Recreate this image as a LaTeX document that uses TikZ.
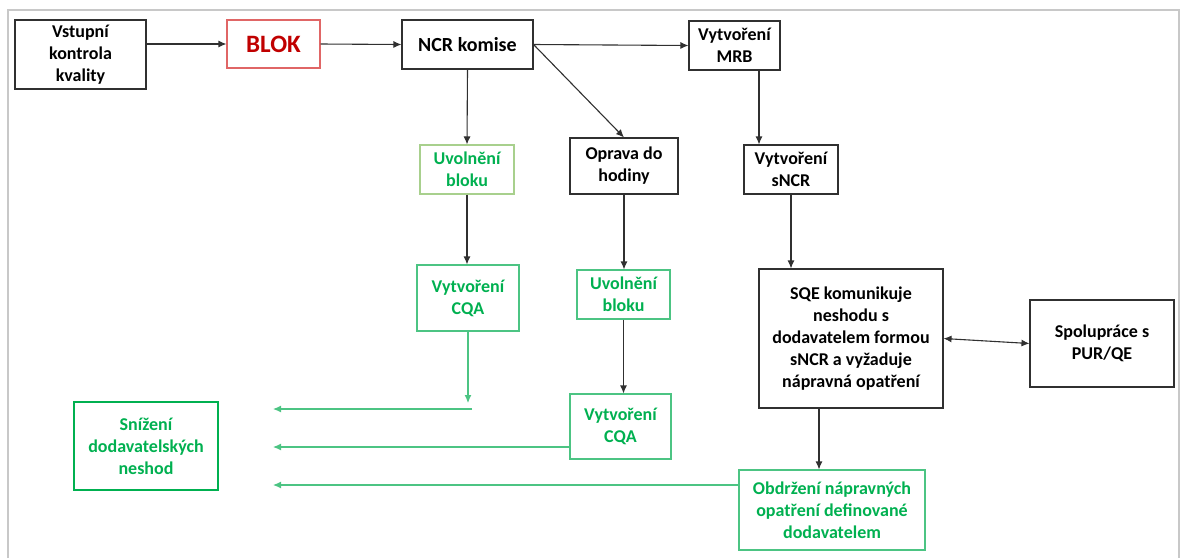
\documentclass[tikz,border=0pt]{standalone}
\usepackage{fontspec}
\setmainfont{Carlito}
\usetikzlibrary{arrows.meta}
\definecolor{framegray}{HTML}{C8C8C8}
\definecolor{linegray}{HTML}{303030}
\definecolor{okgreen}{HTML}{00B050}
\definecolor{softgreen}{HTML}{4CC483}
\definecolor{olivegreen}{HTML}{A8D08D}
\definecolor{blokred}{HTML}{C00000}
\definecolor{blokedge}{HTML}{E06666}
\begin{document}
\begin{tikzpicture}[x=1pt,y=-1pt,
  box/.style={draw=linegray,line width=1.1pt,align=center,inner sep=0pt,
    font=\fontsize{18}{22}\selectfont\bfseries,text=black},
  gbox/.style={box,draw=softgreen,text=okgreen},
  tip/.tip={Latex[length=8pt,width=7pt]},
  flow/.style={draw=linegray,line width=1.1pt,-tip},
  gflow/.style={draw=softgreen,line width=1.1pt,-tip}]
  \useasboundingbox (0,0) rectangle (1183,558);
  % outer frame, open at the bottom
  \draw[framegray,line width=1.5pt] (8,558) -- (8,10) -- (1179,10) -- (1179,558);

  % boxes
  \node[box,minimum width=131pt,minimum height=69pt] (vk) at (80.5,54.5) {Vstupní\\kontrola\\kvality};
  \node[box,draw=blokedge,text=blokred,minimum width=93pt,minimum height=48pt,
        font=\fontsize{25}{28}\selectfont\bfseries] (blok) at (273.5,44) {BLOK};
  \node[box,minimum width=131pt,minimum height=49pt,
        font=\fontsize{20}{24}\selectfont\bfseries] (ncr) at (467.5,44.5) {NCR komise};
  \node[box,minimum width=91pt,minimum height=49pt] (mrb) at (734.5,45.5) {Vytvoření\\MRB};
  \node[gbox,draw=olivegreen,minimum width=94pt,minimum height=49pt] (uv1) at (467,169.5) {Uvolnění\\bloku};
  \node[box,minimum width=108pt,minimum height=56pt] (opr) at (624,166) {Oprava do\\hodiny};
  \node[box,minimum width=94pt,minimum height=49pt] (sncr) at (791,169.5) {Vytvoření\\sNCR};
  \node[gbox,minimum width=102pt,minimum height=66pt] (cqa1) at (468,298) {Vytvoření\\CQA};
  \node[gbox,minimum width=93pt,minimum height=49pt] (uv2) at (623.5,294.5) {Uvolnění\\bloku};
  \node[gbox,minimum width=101pt,minimum height=65pt] (cqa2) at (620.5,426.5) {Vytvoření\\CQA};
  \node[box,minimum width=184pt,minimum height=139pt] (sqe) at (851,338.5)
    {SQE komunikuje\\neshodu s\\dodavatelem formou\\sNCR a vyžaduje\\nápravná opatření};
  \node[box,minimum width=144pt,minimum height=87pt] (spol) at (1102,343.5) {Spolupráce s\\PUR/QE};
  \node[gbox,minimum width=186pt,minimum height=80pt] (obd) at (832,510)
    {Obdržení nápravných\\opatření definované\\dodavatelem};
  \node[gbox,draw=okgreen,minimum width=144pt,minimum height=88pt] (sniz) at (146,446)
    {Snížení\\dodavatelských\\neshod};

  % free ends of the green feedback arrows
  \coordinate (c1) at (468,403);
  \coordinate (h1) at (472,409);
  \coordinate (t1) at (273,409);
  \coordinate (t2) at (273,447);
  \coordinate (t3) at (273,485);

  % main flow
  \draw[flow] (vk.east |- blok.west) -- (blok.west);
  \draw[flow] (blok.east) -- (ncr.west);
  \draw[flow] (ncr.east) -- (mrb.west);
  \draw[flow] (ncr.east) -- (opr.north);
  \draw[flow] (ncr.south) -- (uv1.north);
  \draw[flow] ([xshift=24.5pt]mrb.south) -- ([xshift=24.5pt]mrb.south |- sncr.north);
  \draw[flow] (uv1.south) -- (uv1.south |- cqa1.north);
  \draw[flow] (opr.south) -- (opr.south |- uv2.north);
  \draw[flow] (uv2.south) -- (uv2.south |- cqa2.north);
  \draw[flow] (sncr.south) -- (sncr.south |- sqe.north);
  \draw[flow,tip-tip] (sqe.east) -- (spol.west);
  \draw[flow] ([xshift=-13pt]obd.north |- sqe.south) -- ([xshift=-13pt]obd.north);

  % green feedback arrows
  \draw[gflow] (cqa1.south) -- (c1);
  \draw[gflow] (h1) -- (t1);
  \draw[gflow] (cqa2.west |- t2) -- (t2);
  \draw[gflow] (obd.west |- t3) -- (t3);
\end{tikzpicture}
\end{document}
